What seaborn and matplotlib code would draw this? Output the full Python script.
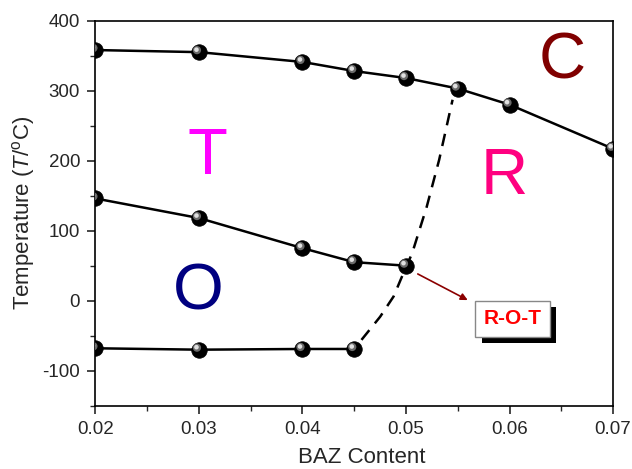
import matplotlib
matplotlib.use("Agg")
import matplotlib.pyplot as plt
import matplotlib.patheffects as pe
import seaborn as sns
import pandas as pd
from matplotlib.transforms import offset_copy
from matplotlib.ticker import MultipleLocator

# ---- data ----
upper_x = [0.02, 0.03, 0.04, 0.045, 0.05, 0.055, 0.06, 0.07]
upper_y = [358, 355, 341, 328, 318, 303, 280, 217]
middle_x = [0.02, 0.03, 0.04, 0.045, 0.05]
middle_y = [146, 118, 75, 55, 50]
lower_x = [0.02, 0.03, 0.04, 0.045]
lower_y = [-68, -70, -69, -69]
dash_x = [0.0457, 0.0475, 0.0488, 0.0496, 0.0506, 0.0520, 0.0532, 0.0545]
dash_y = [-56, -23, 6, 34, 68, 134, 201, 287]

phase_labels = ["T", "O", "R", "C"]
phase_x = [0.0308, 0.0299, 0.0595, 0.0651]
phase_y = [205, 11, 177, 341]
phase_colors = ["#FF00FF", "#000080", "#FF0080", "#800000"]

xticks = [0.02, 0.03, 0.04, 0.05, 0.06, 0.07]
xticklabels = ["0.02", "0.03", "0.04", "0.05", "0.06", "0.07"]
yticks = [-100, 0, 100, 200, 300, 400]

sns.set_style("ticks")
plt.rcParams['font.family'] = ['Liberation Sans', 'DejaVu Sans']
plt.rcParams['mathtext.fontset'] = 'custom'
plt.rcParams['mathtext.rm'] = 'Liberation Sans'
plt.rcParams['mathtext.it'] = 'Liberation Sans:italic'
plt.rcParams['axes.unicode_minus'] = False

fig = plt.figure(figsize=(6.32, 4.69), dpi=100)
ax = fig.add_axes([0.151, 0.135, 0.819, 0.821])

curves = [(upper_x, upper_y), (middle_x, middle_y), (lower_x, lower_y)]
for cx, cy in curves:
    df = pd.DataFrame({"x": cx, "y": cy})
    sns.lineplot(data=df, x="x", y="y", ax=ax, color="black", lw=1.8,
                 sort=False, estimator=None, zorder=2)

ddf = pd.DataFrame({"x": dash_x, "y": dash_y})
sns.lineplot(data=ddf, x="x", y="y", ax=ax, color="black", lw=1.8,
             sort=False, estimator=None, zorder=2)
ax.lines[-1].set_dashes([5, 3.5])

all_x = upper_x + middle_x + lower_x
all_y = upper_y + middle_y + lower_y
pts = pd.DataFrame({"x": all_x, "y": all_y})
sns.scatterplot(data=pts, x="x", y="y", ax=ax, s=125, color="black",
                edgecolor="black", linewidth=0.5, zorder=3)
# sphere shading highlight
hl = offset_copy(ax.transData, fig=fig, x=-2, y=2, units='dots')
ax.scatter(all_x, all_y, s=35, color="#6a6a6a", edgecolor="none", zorder=4, transform=hl)
hl2 = offset_copy(ax.transData, fig=fig, x=-2.5, y=2.5, units='dots')
ax.scatter(all_x, all_y, s=11, color="#e0e0e0", edgecolor="none", zorder=5, transform=hl2)

for lab, px, py, c in zip(phase_labels, phase_x, phase_y, phase_colors):
    ax.text(px, py, lab, color=c, fontsize=47, ha="center", va="center", zorder=6)

# annotation arrow + box
ax.annotate("", xy=(0.0562, -1), xytext=(0.0509, 40),
            arrowprops=dict(arrowstyle="-|>", color="#8B0000", lw=1.2,
                            mutation_scale=10), zorder=6)
t = ax.text(0.0603, -26, "R-O-T", color="red", fontsize=15, fontweight="bold",
            ha="center", va="center", zorder=7,
            bbox=dict(boxstyle="square,pad=0.4", fc="white", ec="#888888", lw=1))
t.get_bbox_patch().set_path_effects([
    pe.SimplePatchShadow(offset=(4.5, -4.5), shadow_rgbFace="black", alpha=1.0),
    pe.Normal()])

ax.set_xlim(0.02, 0.07)
ax.set_ylim(-150, 400)
ax.set_xticks(xticks)
ax.set_xticklabels(xticklabels)
ax.set_yticks(yticks)
ax.xaxis.set_minor_locator(MultipleLocator(0.005))
ax.yaxis.set_minor_locator(MultipleLocator(50))
ax.tick_params(which="major", direction="out", length=6, width=1.2, labelsize=13.5,
               top=False, right=False, pad=5)
ax.tick_params(which="minor", direction="out", length=3.5, width=1.0,
               top=False, right=False)
for sp in ax.spines.values():
    sp.set_visible(True)
    sp.set_linewidth(1.2)
    sp.set_color("black")

ax.set_xlabel("BAZ Content", fontsize=16)
ax.xaxis.set_label_coords(0.515, -0.107)
ax.set_ylabel("Temperature ($\\mathit{T}$/$^{\\mathrm{o}}$C)", fontsize=16, labelpad=4)

fig.savefig("out.png", dpi=100)
